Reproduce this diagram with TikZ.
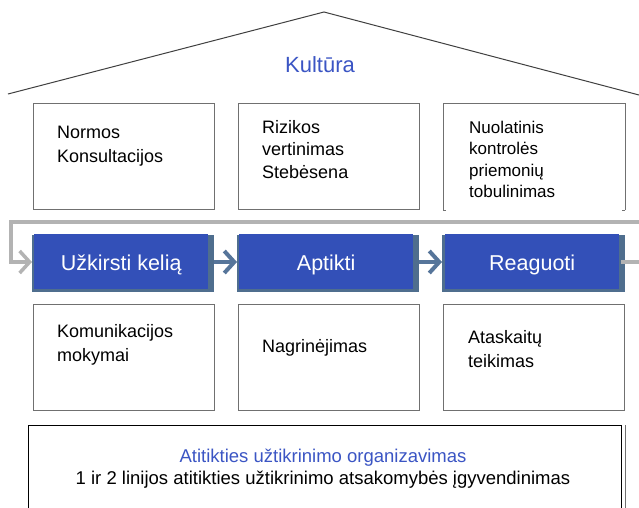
\documentclass[tikz,border=0pt]{standalone}
\usepackage{fontspec}
\setmainfont{Liberation Sans}
\usetikzlibrary{arrows.meta}
\definecolor{boxblue}{HTML}{3350B8}
\definecolor{shadowslate}{HTML}{4F6E8E}
\definecolor{arrowslate}{HTML}{56759A}
\definecolor{loopgray}{HTML}{B3B3B3}
\definecolor{titleblue}{HTML}{3B55C4}
\definecolor{edgegray}{HTML}{707070}
\definecolor{roofgray}{HTML}{404040}
\begin{document}
\begin{tikzpicture}[x=1pt,y=-1pt,
  pillar/.style={draw=edgegray,line width=1pt,minimum width=181pt,minimum height=106pt,inner sep=0pt},
  itemtext/.style={anchor=north west,inner sep=0pt,align=left,font=\fontsize{18}{23.5}\selectfont},
  stage/.style={fill=boxblue,text=white,minimum width=174pt,minimum height=55pt,inner sep=0pt},
  stagetext/.style={text=white,font=\fontsize{21.5}{25}\selectfont,anchor=base},
  stageshadow/.style={fill=shadowslate},
  flow/.style={arrowslate,line width=4pt,-{Straight Barb[length=10pt,width=22pt,line width=4pt]}},
  loop/.style={loopgray,line width=3.5pt}
]
\useasboundingbox (0,0) rectangle (639,507);
\clip (0,0) rectangle (639,507);
\fill[white] (0,0) rectangle (639,507);

% roof
\coordinate (roofL) at (8,94);
\coordinate (roofT) at (324,12);
\coordinate (roofR) at (639,95);
\draw[roofgray,line width=1pt] (roofL) -- (roofT) -- (roofR);
\node[text=titleblue,font=\fontsize{22}{26}\selectfont,anchor=base] (cult) at (320,72) {Kultūra};

% top pillars
\node[pillar,anchor=north west] (t1) at (33,103) {};
\node[pillar,anchor=north west] (t2) at (238,103) {};
\node[pillar,anchor=north west,draw=none] (t3) at (443,103) {};
\draw[edgegray,line width=1pt] (t3.south west) -- (t3.north west) -- (t3.north east) -- (t3.south east);
\draw[edgegray,line width=1pt] (t3.south west) -- ++(3,0);
\draw[edgegray,line width=1pt] (t3.south east) -- ++(-3,0);

\node[itemtext] (t1txt) at (57,126) {Normos\\Konsultacijos};
\node[itemtext,font=\fontsize{18}{22.5}\selectfont] (t2txt) at (262,120) {Rizikos\\vertinimas\\Stebėsena};
\node[itemtext,font=\fontsize{17}{21.3}\selectfont] (t3txt) at (469,121) {Nuolatinis\\kontrolės\\priemonių\\tobulinimas};

% stages
\fill[stageshadow] (32,235) rectangle (214,292);
\fill[stageshadow] (237,235) rectangle (419,292);
\fill[stageshadow] (442,235) rectangle (625,292);
\node[stage,anchor=north west] (p1) at (34,234) {};
\node[stage,anchor=north west] (p2) at (239,234) {};
\node[stage,anchor=north west] (p3) at (445,234) {};
\node[stagetext] (p1txt) at (p1.center |- 0,270) {Užkirsti kelią};
\node[stagetext] (p2txt) at (p2.center |- 0,270) {Aptikti};
\node[stagetext] (p3txt) at (p3.center |- 0,270) {Reaguoti};

% loop
\coordinate (loopR) at (645,222);
\coordinate (loopL) at (11,222);
\coordinate (loopD) at (11,262);
\coordinate (exitR) at (645,262);
\draw[loop,line join=miter] (loopR) -- (loopL) -- (loopD) -- (25,262);
\draw[loopgray,line width=3.5pt,-{Straight Barb[length=10pt,width=22pt,line width=3.5pt]}] (loopD) -- (32,262);
\draw[loop] (p3.east |- exitR) ++(2,0) -- (exitR);

% flow arrows
\draw[flow] (214,262) -- (237,262);
\draw[flow] (419,262) -- (442,262);

% bottom pillars
\node[pillar,anchor=north west] (b1) at (33,304) {};
\node[pillar,anchor=north west] (b2) at (238,304) {};
\node[pillar,anchor=north west] (b3) at (443,304) {};
\node[itemtext,font=\fontsize{18}{24.3}\selectfont] (b1txt) at (57,324) {Komunikacijos\\mokymai};
\node[itemtext] (b2txt) at (262,339) {Nagrinėjimas};
\node[itemtext,font=\fontsize{18}{24}\selectfont] (b3txt) at (468,330) {Ataskaitų\\teikimas};

% foundation
\node[draw=black,line width=1pt,anchor=north west,minimum width=593pt,minimum height=90pt,inner sep=0pt] (base) at (28,425) {};
\draw[edgegray,line width=1pt] ([xshift=3pt]base.north east) -- ([xshift=3pt]base.south east);
\node[text=titleblue,font=\fontsize{18.5}{22}\selectfont,anchor=base] (basetitle) at (323,462) {Atitikties užtikrinimo organizavimas};
\node[font=\fontsize{18.5}{22}\selectfont,anchor=base] (basetext) at (323,484) {1 ir 2 linijos atitikties užtikrinimo atsakomybės įgyvendinimas};
\end{tikzpicture}
\end{document}
